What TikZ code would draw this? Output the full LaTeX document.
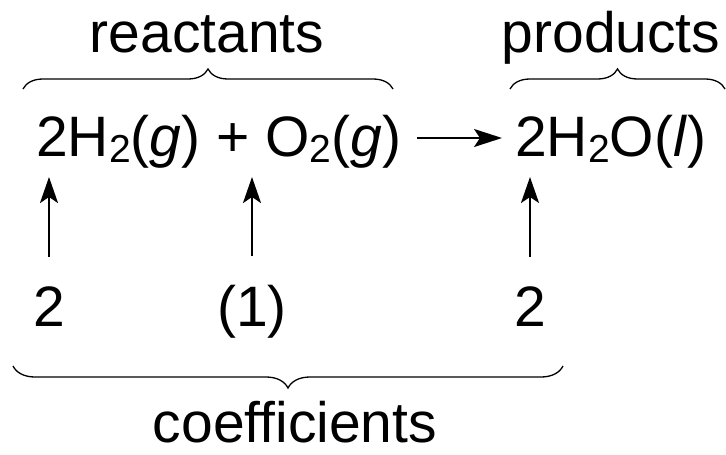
\documentclass[tikz,border=0pt]{standalone}
\usepackage{fontspec}
\setmainfont{Liberation Sans}
\usetikzlibrary{arrows.meta,decorations.pathreplacing}
\newcommand{\sbs}[1]{\raisebox{-6pt}{\fontsize{39}{39}\selectfont #1}}
\tikzset{
  txt/.style={inner sep=0pt, font=\fontsize{57}{68}\selectfont},
  uarr/.style={line width=2pt, -{Stealth[length=26pt,width=18pt,inset=6pt]}},
  harr/.style={line width=2pt, -{Stealth[length=28pt,width=18pt,inset=6pt]}},
  brc/.style={line width=1.3pt, decorate, decoration={brace, amplitude=#1}},
}
\begin{document}
\begin{tikzpicture}[x=1pt,y=-1pt]
\useasboundingbox (0,0) rectangle (726,455);
% labels
\node[txt, anchor=base] (reac) at (207,52) {reactants};
\node[txt, anchor=base] (prod) at (611,52) {products};
\node[txt, anchor=base] (coef) at (295,442) {coefficients};
% equation
\node[txt, anchor=base west] (lhs) at (36,156) {2H\sbs{2}(\textit{g}) + O\sbs{2}(\textit{g})};
\node[txt, anchor=base west] (rhs) at (515,156) {2H\sbs{2}O(\textit{l})};
% coefficients
\node[txt, anchor=base] (c1) at (49,326) {2};
\node[txt, anchor=base] (c2) at (252,326) {(1)};
\node[txt, anchor=base] (c3) at (530,326) {2};
% braces
\draw[brc=20pt] (23,89) -- (393,89);
\draw[brc=20pt] (510,89) -- (725,89);
\draw[brc=22pt] (563,366) -- (13,366);
% reaction arrow
\draw[harr] ([xshift=16pt,yshift=18pt]lhs.base east) -- ([xshift=-13pt,yshift=18pt]rhs.base west);
% coefficient arrows
\draw[uarr, shorten <=29pt, shorten >=9pt] (c1.north) -- (c1.north |- lhs.south);
\draw[uarr, shorten <=28pt, shorten >=9pt] (c2.north) -- (c2.north |- lhs.south);
\draw[uarr, shorten <=29pt, shorten >=9pt] (c3.north) -- (c3.north |- rhs.south);
\end{tikzpicture}
\end{document}
